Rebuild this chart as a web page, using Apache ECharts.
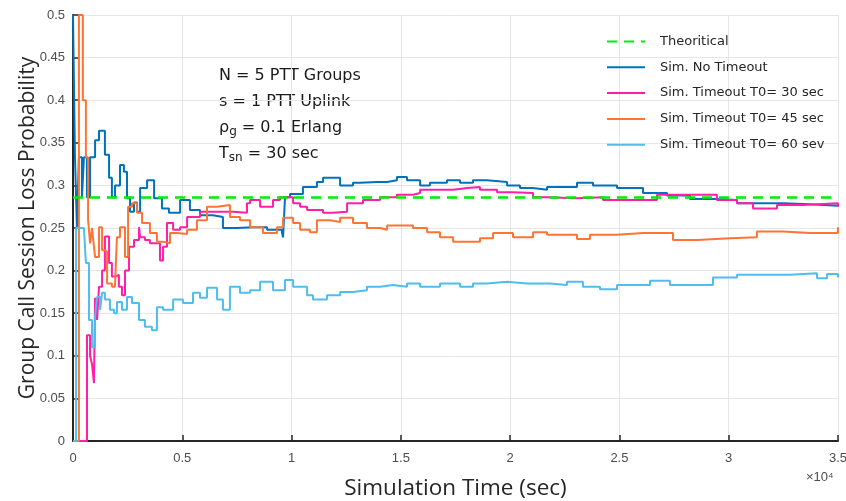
<!DOCTYPE html>
<html><head><meta charset="utf-8">
<script src="https://cdn.jsdelivr.net/npm/echarts@6/dist/echarts.min.js"></script>
<style>html,body{margin:0;padding:0;background:#fff}#c{width:846px;height:501px}</style>
</head><body><div id="c"></div>
<script>
// x values in units of 10^4 sec
const xTicks = [0, 0.5, 1, 1.5, 2, 2.5, 3, 3.5];
const seriesNames = ['Theoritical', 'Sim. No Timeout', 'Sim. Timeout T0= 30 sec', 'Sim. Timeout T0= 45 sec', 'Sim. Timeout T0= 60 sev'];
const theoretical = [[0, 0.2857], [3.5, 0.2857]];
const noTimeout = [[0,0.5],[0.009,0.333],[0.018,0.25],[0.027,0.333],[0.041,0.286],[0.050,0.333],[0.064,0.286],[0.078,0.333],[0.101,0.353],[0.119,0.364],[0.146,0.336],[0.165,0.309],[0.178,0.286],[0.192,0.300],[0.215,0.324],[0.233,0.316],[0.247,0.285],[0.261,0.269],[0.279,0.280],[0.293,0.269],[0.307,0.297],[0.339,0.306],[0.371,0.285],[0.407,0.273],[0.439,0.268],[0.490,0.283],[0.535,0.271],[0.581,0.265],[0.641,0.263],[0.686,0.250],[0.750,0.251],[0.824,0.251],[0.888,0.248],[0.956,0.245],[0.961,0.239],[0.970,0.286],[0.993,0.290],[1.052,0.298],[1.116,0.304],[1.144,0.309],[1.190,0.309],[1.222,0.300],[1.281,0.303],[1.313,0.304],[1.391,0.304],[1.437,0.306],[1.482,0.310],[1.528,0.306],[1.588,0.300],[1.633,0.303],[1.711,0.306],[1.771,0.303],[1.830,0.306],[1.894,0.304],[1.986,0.300],[2.045,0.297],[2.105,0.295],[2.169,0.298],[2.228,0.298],[2.306,0.303],[2.379,0.300],[2.489,0.297],[2.608,0.291],[2.718,0.288],[2.823,0.284],[2.946,0.283],[3.038,0.279],[3.175,0.279],[3.248,0.278],[3.372,0.276],[3.5,0.276]];
const timeout30 = [[0,0],[0.064,0.124],[0.078,0.10],[0.087,0.09],[0.096,0.068],[0.101,0.168],[0.110,0.142],[0.119,0.181],[0.133,0.20],[0.146,0.24],[0.165,0.209],[0.178,0.193],[0.192,0.195],[0.210,0.181],[0.224,0.171],[0.238,0.2],[0.256,0.228],[0.279,0.236],[0.302,0.251],[0.307,0.239],[0.329,0.236],[0.352,0.232],[0.398,0.212],[0.412,0.228],[0.430,0.256],[0.458,0.248],[0.490,0.251],[0.522,0.263],[0.581,0.269],[0.659,0.269],[0.732,0.268],[0.796,0.279],[0.810,0.283],[0.856,0.275],[0.915,0.283],[0.947,0.286],[1.007,0.279],[1.039,0.275],[1.071,0.271],[1.144,0.268],[1.190,0.269],[1.254,0.279],[1.327,0.283],[1.405,0.286],[1.482,0.289],[1.556,0.291],[1.588,0.295],[1.679,0.295],[1.739,0.297],[1.803,0.298],[1.862,0.295],[1.940,0.292],[2.013,0.291],[2.105,0.286],[2.169,0.285],[2.306,0.286],[2.425,0.283],[2.548,0.283],[2.672,0.289],[2.823,0.289],[2.946,0.283],[3.038,0.279],[3.111,0.273],[3.221,0.277],[3.340,0.279],[3.5,0.275]];
const timeout45 = [[0,0],[0.027,0.5],[0.045,0.4],[0.059,0.333],[0.069,0.26],[0.078,0.232],[0.087,0.25],[0.096,0.228],[0.101,0.216],[0.119,0.251],[0.133,0.224],[0.146,0.222],[0.156,0.185],[0.178,0.181],[0.192,0.183],[0.201,0.239],[0.215,0.251],[0.238,0.216],[0.252,0.275],[0.270,0.279],[0.293,0.268],[0.316,0.256],[0.352,0.244],[0.384,0.234],[0.412,0.232],[0.444,0.244],[0.476,0.243],[0.522,0.248],[0.567,0.259],[0.613,0.275],[0.659,0.277],[0.718,0.263],[0.764,0.259],[0.810,0.251],[0.869,0.244],[0.933,0.251],[0.961,0.262],[1.007,0.256],[1.039,0.248],[1.084,0.245],[1.116,0.259],[1.176,0.257],[1.222,0.262],[1.281,0.256],[1.345,0.25],[1.405,0.248],[1.437,0.253],[1.496,0.253],[1.556,0.25],[1.620,0.245],[1.679,0.239],[1.739,0.234],[1.803,0.234],[1.862,0.238],[1.922,0.244],[2.013,0.239],[2.105,0.245],[2.169,0.242],[2.228,0.242],[2.306,0.237],[2.365,0.242],[2.489,0.244],[2.608,0.244],[2.745,0.236],[2.855,0.238],[3.006,0.239],[3.129,0.246],[3.248,0.244],[3.372,0.244],[3.5,0.251]];
const timeout60 = [[0,0],[0.014,0.25],[0.050,0.25],[0.059,0.209],[0.073,0.142],[0.087,0.11],[0.101,0.146],[0.110,0.169],[0.124,0.154],[0.133,0.174],[0.146,0.166],[0.169,0.154],[0.188,0.150],[0.201,0.163],[0.224,0.154],[0.247,0.169],[0.270,0.162],[0.302,0.142],[0.329,0.134],[0.361,0.130],[0.384,0.157],[0.412,0.154],[0.458,0.166],[0.503,0.162],[0.549,0.174],[0.581,0.168],[0.613,0.180],[0.659,0.166],[0.686,0.154],[0.718,0.181],[0.764,0.174],[0.810,0.177],[0.856,0.187],[0.915,0.177],[0.970,0.189],[1.007,0.181],[1.071,0.171],[1.098,0.166],[1.162,0.171],[1.222,0.175],[1.281,0.177],[1.345,0.181],[1.405,0.183],[1.464,0.181],[1.528,0.185],[1.588,0.181],[1.679,0.185],[1.771,0.181],[1.830,0.185],[1.894,0.187],[1.986,0.185],[2.077,0.185],[2.182,0.183],[2.260,0.187],[2.333,0.181],[2.411,0.178],[2.489,0.183],[2.640,0.188],[2.731,0.183],[2.837,0.183],[2.928,0.192],[3.038,0.195],[3.157,0.195],[3.280,0.197],[3.404,0.191],[3.450,0.196],[3.5,0.192]];
const annotations = ['N = 5 PTT Groups', 's = 1 PTT Uplink', '{n|ρ}{s|g}{n| = 0.1 Erlang}', '{n|T}{s|sn}{n| = 30 sec}'];

const colors = ['#00ee00', '#0072bd', '#ff1fa8', '#ff7433', '#4dbeee'];
const chart = echarts.init(document.getElementById('c'));
function sim(name, data, color) {
  return { name, type: 'line', data, step: 'end', showSymbol: false, symbol: 'none',
    lineStyle: { color, width: 2 }, itemStyle: { color }, z: 3, animation: false };
}
const richStyle = { n: { fontSize: 16, fontFamily: 'DejaVu Sans', fill: '#1a1a1a' }, s: { fontSize: 12, fontFamily: 'DejaVu Sans', padding: [8, 0, 0, 0], fill: '#1a1a1a' } };
chart.setOption({
  animation: false,
  grid: { left: 73, right: 8, top: 15, bottom: 60, containLabel: false, outerBoundsMode: 'none' },
  legend: {
    orient: 'vertical', left: 601, top: 30, itemWidth: 38, itemHeight: 12, itemGap: 12.8,
    itemStyle: { opacity: 0, borderWidth: 0 },
    textStyle: { fontFamily: 'DejaVu Sans', fontSize: 13, color: '#262626', padding: [0, 0, 0, 10] },
    data: seriesNames
  },
  xAxis: {
    type: 'value', min: 0, max: 3.5, interval: 0.5,
    name: 'Simulation Time (sec)', nameLocation: 'middle', nameGap: 36, nameMoveOverlap: false,
    nameTextStyle: { fontFamily: 'Open Sans', fontSize: 22.5, color: '#262626' },
    axisLine: { lineStyle: { color: '#262626', width: 2 } },
    axisTick: { inside: true, length: 6, lineStyle: { color: '#262626', width: 1.5 } },
    axisLabel: { fontFamily: 'Liberation Sans Narrow, Liberation Sans', fontSize: 13, color: '#4d4d4d', margin: 11,
      formatter: v => String(v) },
    splitLine: { lineStyle: { color: '#e6e6e6', width: 1 } }
  },
  yAxis: {
    type: 'value', min: 0, max: 0.5, interval: 0.05,
    name: 'Group Call Session Loss Probability', nameLocation: 'middle', nameGap: 34, nameMoveOverlap: false,
    nameTextStyle: { fontFamily: 'Open Sans', fontSize: 21, color: '#262626' },
    axisLine: { lineStyle: { color: '#262626', width: 2 } },
    axisTick: { show: true, inside: true, length: 6, lineStyle: { color: '#262626', width: 1.5 } },
    axisLabel: { fontFamily: 'Liberation Sans Narrow, Liberation Sans', fontSize: 13, color: '#4d4d4d', margin: 8,
      formatter: v => String(+v.toFixed(2)) },
    splitLine: { lineStyle: { color: '#e6e6e6', width: 1 } }
  },
  graphic: [
    { type: 'text', left: 806, top: 471, style: { text: '×10⁴', fontFamily: 'Liberation Sans Narrow, Liberation Sans', fontSize: 13, fill: '#4d4d4d' } },
    { type: 'text', left: 219, top: 68, style: { text: annotations[0], fontFamily: 'DejaVu Sans', fontSize: 16, fill: '#1a1a1a' } },
    { type: 'text', left: 219, top: 94, style: { text: annotations[1], fontFamily: 'DejaVu Sans', fontSize: 16, fill: '#1a1a1a' } },
    { type: 'text', left: 219, top: 120, style: { text: annotations[2], fontFamily: 'DejaVu Sans', fill: '#1a1a1a', rich: richStyle } },
    { type: 'text', left: 219, top: 146, style: { text: annotations[3], fontFamily: 'DejaVu Sans', fill: '#1a1a1a', rich: richStyle } }
  ],
  series: [
    { name: seriesNames[0], type: 'line', data: theoretical, showSymbol: false, symbol: 'none', z: 4,
      lineStyle: { color: colors[0], width: 2.5, type: [10, 7] }, itemStyle: { color: colors[0] } },
    sim(seriesNames[1], noTimeout, colors[1]),
    sim(seriesNames[2], timeout30, colors[2]),
    sim(seriesNames[3], timeout45, colors[3]),
    sim(seriesNames[4], timeout60, colors[4])
  ]
});
</script></body></html>
